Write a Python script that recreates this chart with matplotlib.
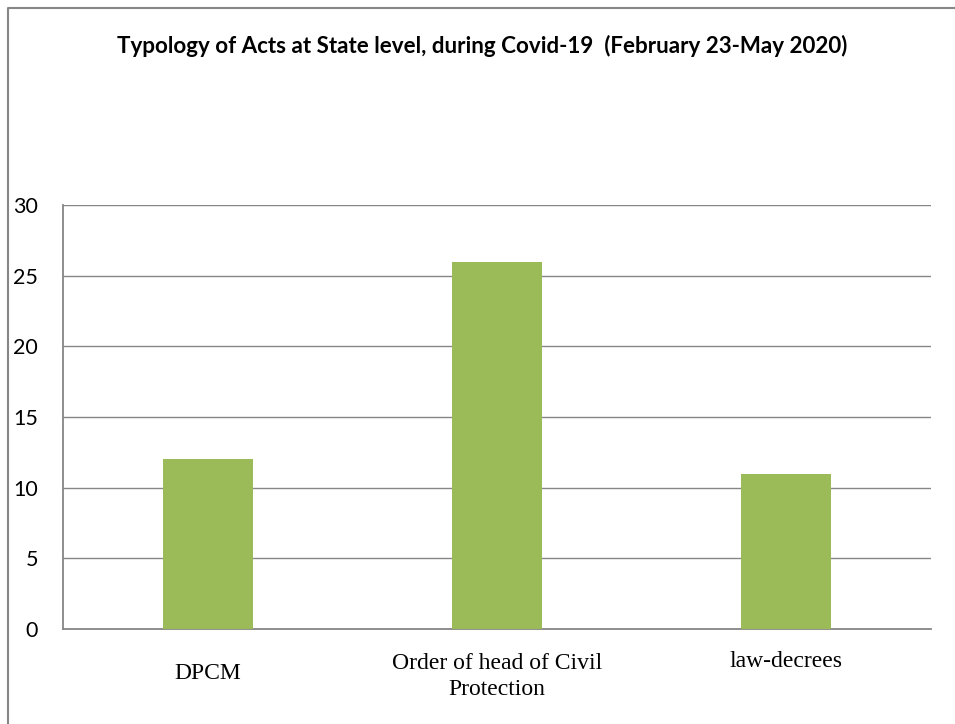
import matplotlib
matplotlib.use("Agg")
import matplotlib.pyplot as plt
from matplotlib.lines import Line2D
from matplotlib.transforms import ScaledTranslation

# Data
categories = ["DPCM", "Order of head of Civil\nProtection", "law-decrees"]
acts = [12, 26, 11]
y_ticks = [0, 5, 10, 15, 20, 25, 30]
title = "Typology of Acts at State level, during Covid-19  (February 23-May 2020)"

BAR_COLOR = "#9BBB59"
GRID_COLOR = "#868686"

fig = plt.figure(figsize=(9.55, 7.24), dpi=100)
fig.patch.set_facecolor("white")

# Plot area
ax = fig.add_axes([63 / 955, 1 - 629 / 724, (931 - 63) / 955, (629 - 205) / 724])
x = list(range(len(categories)))
ax.bar(x, acts, width=0.311, color=BAR_COLOR, zorder=3)

ax.set_xlim(-0.5, len(categories) - 0.5)
ax.set_ylim(0, 30)
ax.set_yticks(y_ticks)
ax.set_yticklabels([str(t) for t in y_ticks], fontfamily="Lato", fontsize=15.5)
ax.tick_params(axis="y", length=0, pad=18)
ax.set_xticks([])

ax.yaxis.grid(True, color=GRID_COLOR, linewidth=1.0, zorder=0)
ax.set_axisbelow(True)
for side in ("top", "right"):
    ax.spines[side].set_visible(False)
for side in ("left", "bottom"):
    ax.spines[side].set_color(GRID_COLOR)
    ax.spines[side].set_linewidth(1.3)

# Category labels below the axis (offset of the last line's baseline, in points)
label_drop_pt = [36.0, 47.5, 27.4]
for xi, lab, drop in zip(x, categories, label_drop_pt):
    tr = ax.get_xaxis_transform() + ScaledTranslation(0, -drop / 72, fig.dpi_scale_trans)
    ax.text(xi, 0, lab, transform=tr, ha="center", va="baseline",
            fontfamily="Liberation Serif", fontsize=17, linespacing=1.3)

# Title
fig.text(482.5 / 955, 1 - 53 / 724, title, ha="center", va="baseline",
         fontfamily="Lato", fontweight="bold", fontsize=16.1)

# Chart frame (left and top edges)
bx, by = 8 / 955, 1 - 8 / 724
fig.add_artist(Line2D([bx, bx, 1.0], [0.0, by, by], transform=fig.transFigure,
                      color=GRID_COLOR, linewidth=1.5))

fig.savefig("out.png", dpi=100)
